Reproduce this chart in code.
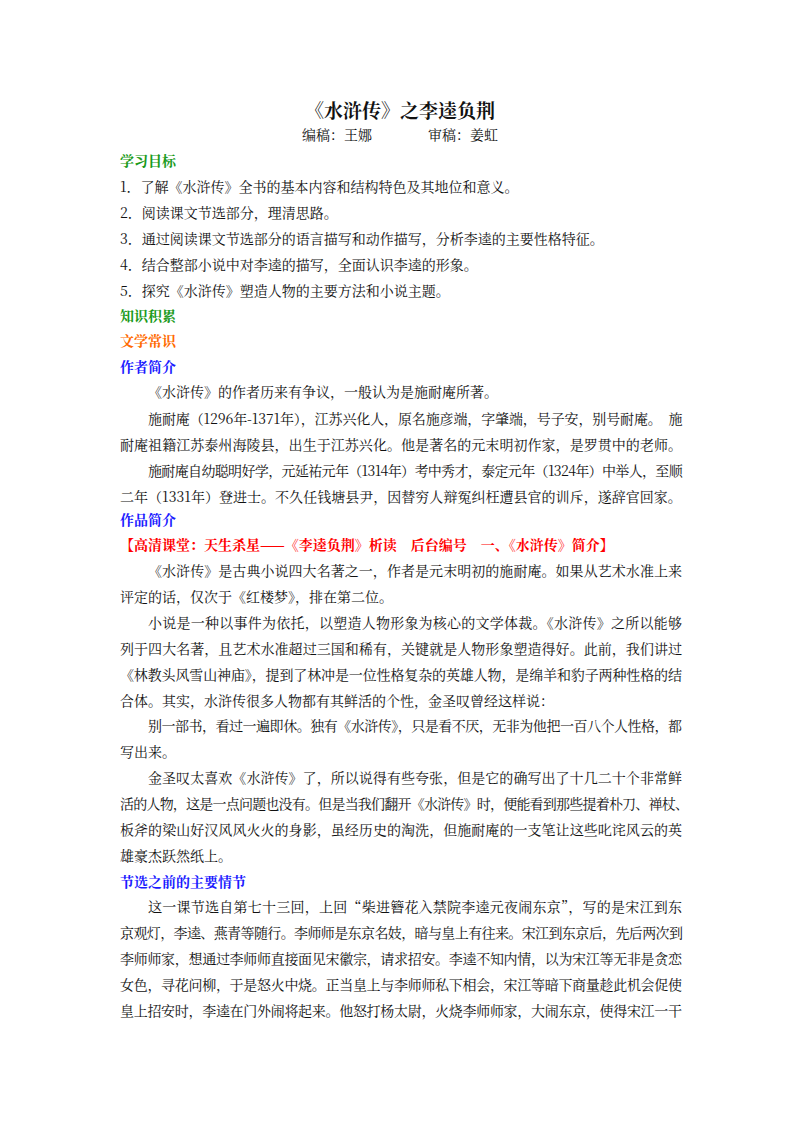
<!DOCTYPE html>
<html><head><meta charset="utf-8">
<script src="https://cdn.jsdelivr.net/npm/chart.js"></script>
<style>
body{margin:0;width:800px;height:1132px;background:#fff;position:relative;font-family:"Noto Serif CJK SC","Noto Sans CJK SC",serif;color:#111}
.l{position:absolute;left:120px;font-size:14px;line-height:20px;white-space:nowrap}
.b{font-weight:bold}
.g{color:#1a9a1a;font-weight:bold}.o{color:#ff6a00;font-weight:bold}.u{color:#1a1aff;font-weight:bold}.r{color:#f00;font-weight:bold}
</style></head><body>
<div id="doc"></div>
<script>
// [y, classes, text]
const lines = [
 [110,'b c','《水浒传》之李逵负荆'],
 [134,'c','编稿：王娜　　　　审稿：姜虹'],
 [160,'g','学习目标'],
 [186,'','1．了解《水浒传》全书的基本内容和结构特色及其地位和意义。'],
 [212,'','2．阅读课文节选部分，理清思路。'],
 [238,'','3．通过阅读课文节选部分的语言描写和动作描写，分析李逵的主要性格特征。'],
 [264,'','4．结合整部小说中对李逵的描写，全面认识李逵的形象。'],
 [290,'','5．探究《水浒传》塑造人物的主要方法和小说主题。'],
 [315,'g','知识积累'],
 [340,'o','文学常识'],
 [366,'u','作者简介'],
 [391,'i','《水浒传》的作者历来有争议，一般认为是施耐庵所著。'],
 [418,'i j','施耐庵（1296年-1371年），江苏兴化人，原名施彦端，字肇端，号子安，别号耐庵。　施'],
 [444,'j','耐庵祖籍江苏泰州海陵县，出生于江苏兴化。他是著名的元末明初作家，是罗贯中的老师。'],
 [470,'i j','施耐庵自幼聪明好学，元延祐元年（1314年）考中秀才，泰定元年（1324年）中举人，至顺'],
 [496,'j','二年（1331年）登进士。不久任钱塘县尹，因替穷人辩冤纠枉遭县官的训斥，遂辞官回家。'],
 [519,'u','作品简介'],
 [544,'r','【高清课堂：天生杀星——《李逵负荆》析读　后台编号　一、《水浒传》简介】'],
 [570,'i j','《水浒传》是古典小说四大名著之一，作者是元末明初的施耐庵。如果从艺术水准上来'],
 [596,'','评定的话，仅次于《红楼梦》，排在第二位。'],
 [622,'i j','小说是一种以事件为依托，以塑造人物形象为核心的文学体裁。《水浒传》之所以能够'],
 [648,'j','列于四大名著，且艺术水准超过三国和稀有，关键就是人物形象塑造得好。此前，我们讲过'],
 [674,'j','《林教头风雪山神庙》，提到了林冲是一位性格复杂的英雄人物，是绵羊和豹子两种性格的结'],
 [700,'','合体。其实，水浒传很多人物都有其鲜活的个性，金圣叹曾经这样说：'],
 [725,'i j','别一部书，看过一遍即休。独有《水浒传》，只是看不厌，无非为他把一百八个人性格，都'],
 [751,'','写出来。'],
 [777,'i j','金圣叹太喜欢《水浒传》了，所以说得有些夸张，但是它的确写出了十几二十个非常鲜'],
 [803,'j w','活的人物，这是一点问题也没有。但是当我们翻开《水浒传》时，便能看到那些提着朴刀、禅杖、'],
 [829,'j','板斧的梁山好汉风风火火的身影，虽经历史的淘洗，但施耐庵的一支笔让这些叱诧风云的英'],
 [855,'','雄豪杰跃然纸上。'],
 [881,'u','节选之前的主要情节'],
 [906,'i j','这一课节选自第七十三回，上回“柴进簪花入禁院李逵元夜闹东京”，写的是宋江到东'],
 [932,'j','京观灯，李逵、燕青等随行。李师师是东京名妓，暗与皇上有往来。宋江到东京后，先后两次到'],
 [958,'j','李师师家，想通过李师师直接面见宋徽宗，请求招安。李逵不知内情，以为宋江等无非是贪恋'],
 [984,'j','女色，寻花问柳，于是怒火中烧。正当皇上与李师师私下相会，宋江等暗下商量趁此机会促使'],
 [1010,'j','皇上招安时，李逵在门外闹将起来。他怒打杨太尉，火烧李师师家，大闹东京，使得宋江一干']
];
const doc = document.getElementById('doc');
const right = 682;
lines.forEach(([y, cls, txt]) => {
  const c = cls.split(' ');
  const d = document.createElement('div');
  d.className = 'l ' + cls;
  d.textContent = txt;
  d.style.top = (y - 10) + 'px';
  const left = c.includes('i') ? 148 : 120;
  d.style.left = left + 'px';
  if (c.includes('b')) { d.style.fontSize = '19px'; d.style.top = (y - 12) + 'px'; d.style.lineHeight = '24px'; }
  doc.appendChild(d);
  if (c.includes('c')) d.style.left = (400 - d.offsetWidth / 2) + 'px';
  if (c.includes('j')) {
    const target = (c.includes('w') ? right + 6 : right) - left;
    const n = [...txt].length;
    let ls = (target - d.offsetWidth) / (n - 1);
    d.style.letterSpacing = ls + 'px';
    // trailing spacing after last glyph is counted too; correct it
    const extra = d.offsetWidth - target;
    d.style.letterSpacing = (ls - extra / n) + 'px';
  }
});
</script>
</body></html>
